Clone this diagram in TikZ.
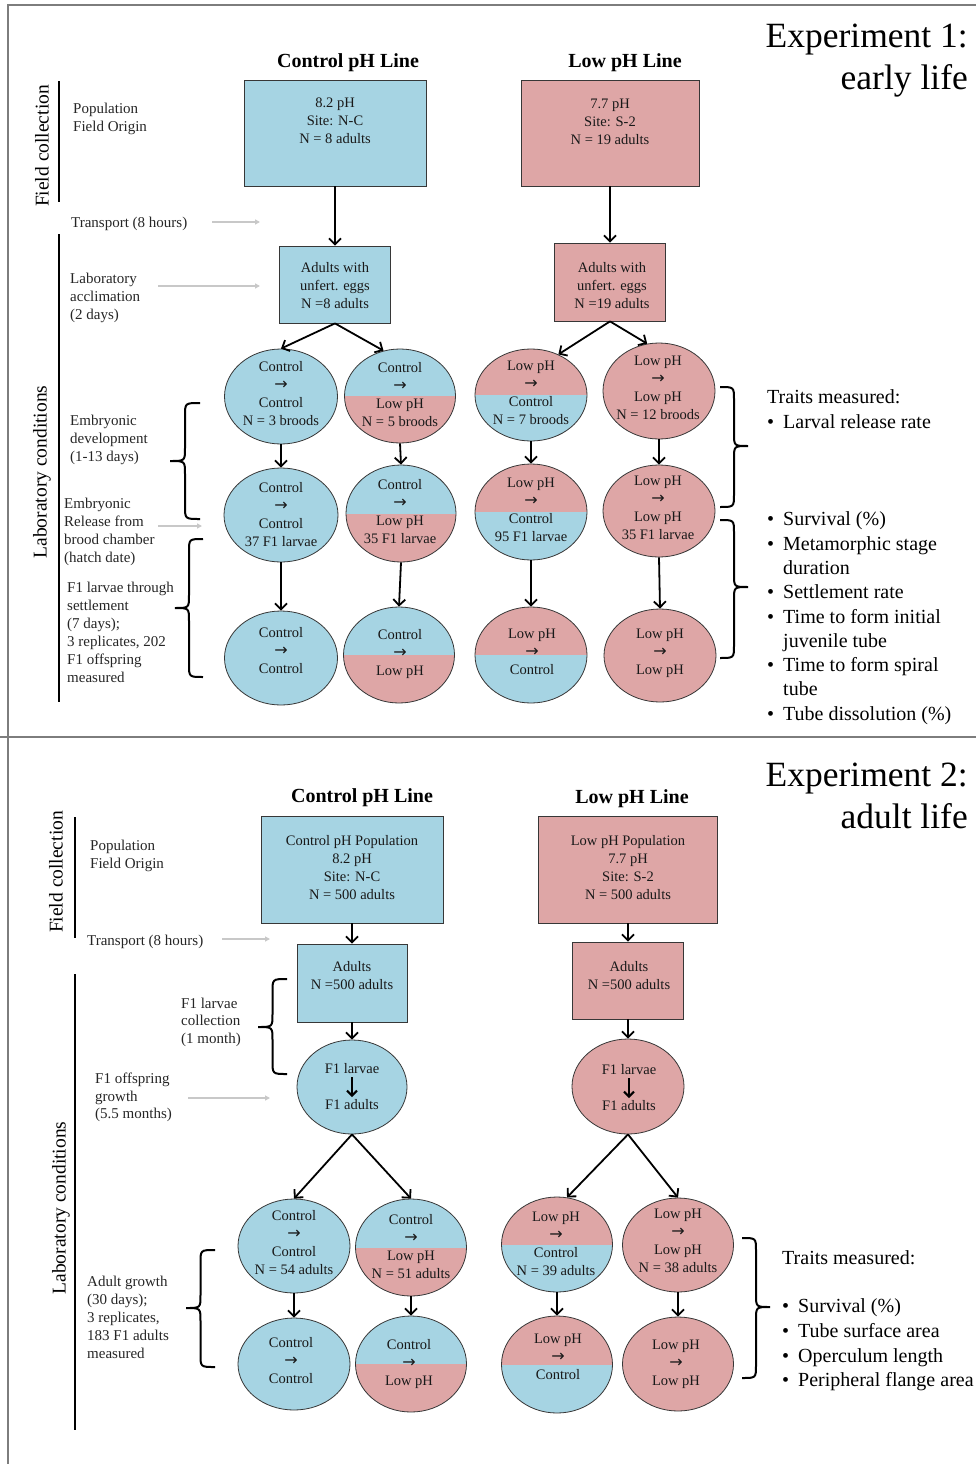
\documentclass[tikz,border=0pt]{standalone}
\usepackage{fontspec}
\setmainfont{Liberation Serif}
\newfontfamily\symf{DejaVu Sans}
\usetikzlibrary{shapes.geometric,arrows.meta}
\definecolor{cblue}{RGB}{166,212,227}
\definecolor{cpink}{RGB}{222,166,166}
\definecolor{outl}{RGB}{55,55,55}
\definecolor{framec}{RGB}{125,125,125}
\definecolor{lgray}{RGB}{200,200,200}
\newcommand\ar{{\fontsize{16}{18}\symf →}}
\newcommand\drawbrace[5]{%
 \draw[brc] (#1,#3) .. controls ({(#1+#2)/2},#3) .. ({(#1+#2)/2},#3+13) -- ({(#1+#2)/2},#5-13) .. controls ({(#1+#2)/2},#5) .. (#2,#5) .. controls ({(#1+#2)/2},#5) .. ({(#1+#2)/2},#5+13) -- ({(#1+#2)/2},#4-13) .. controls ({(#1+#2)/2},#4) .. (#1,#4);}
\begin{document}
\begin{tikzpicture}[x=1pt,y=-1pt,
 box/.style={draw=outl, line width=0.8pt, inner sep=0pt},
 bbox/.style={box, fill=cblue},
 pbox/.style={box, fill=cpink},
 ell/.style={ellipse, draw=outl, line width=0.8pt, inner sep=0pt},
 eb/.style={ell, fill=cblue},
 ep/.style={ell, fill=cpink},
 ebp/.style={ell, fill=cblue, path picture={\fill[cpink] (path picture bounding box.west) rectangle (path picture bounding box.south east);}},
 epb/.style={ell, fill=cpink, path picture={\fill[cblue] (path picture bounding box.west) rectangle (path picture bounding box.south east);}},
 ntext/.style={anchor=north, yshift=5.2pt, align=center, inner sep=0pt, text=black!90, font=\fontsize{14.5}{18}\selectfont},
 ltext/.style={anchor=north west, yshift=5.2pt, align=left, inner sep=0pt, text=black!85, font=\fontsize{15}{18}\selectfont},
 ttext/.style={anchor=north west, yshift=7.2pt, align=left, inner sep=0pt, font=\fontsize{20}{24.3}\selectfont},
 head/.style={inner sep=0pt, font=\bfseries\fontsize{20}{24}\selectfont},
 rot/.style={rotate=90, inner sep=0pt, font=\fontsize{19.5}{22}\selectfont},
 conn/.style={draw=black, line width=1.8pt, -{Straight Barb[length=6pt,width=12pt]}},
 gar/.style={draw=lgray, line width=1.3pt, -{Triangle[length=5pt,width=5pt]}},
 bar/.style={draw=black, line width=2.5pt},
 brc/.style={draw=black, line width=2pt},
 frm/.style={draw=framec, line width=1.5pt}]
\fill[white] (0,0) rectangle (976,1464);
\useasboundingbox (0,0) rectangle (976,1464);
% frame
\draw[frm] (8,1464) -- (8,5) -- (976,5);
\draw[frm] (0,737) -- (976,737);

%%%%%%%%%%%%%%%% Experiment 1
\node[anchor=north east, align=right, inner sep=0pt, font=\fontsize{35.5}{42}\selectfont] (t1) at (968,24) {Experiment 1:\\early life};
\node[head] (h1a) at (348,63) {Control pH Line};
\node[head] (h1b) at (625,63) {Low pH Line};

\node[rot] (fc1) at (42,146) {Field collection};
\node[rot] (lc1) at (42,472) {Laboratory conditions};
\draw[bar] (59,81) -- (59,202);
\draw[bar] (59,234) -- (59,702);

\node[ltext] (pop1) at (73,108) {Population\\Field Origin};
\node[ltext] (tr1) at (71,222) {Transport (8 hours)};
\node[ltext] (acc1) at (70,278) {Laboratory\\acclimation\\(2 days)};
\node[ltext] (emb1) at (70,420) {Embryonic\\development\\(1-13 days)};
\node[ltext] (rel1) at (64,503) {Embryonic\\Release from\\brood chamber\\(hatch date)};
\node[ltext] (set1) at (67,587) {F1 larvae through\\settlement\\(7 days);\\3 replicates, 202\\F1 offspring\\measured};

\coordinate (g1s) at (212,222); \coordinate (g1e) at (260,222);
\coordinate (g2s) at (158,286); \coordinate (g2e) at (260,286);
\coordinate (g3s) at (158,526); \coordinate (g3e) at (202,526);
\draw[gar] (g1s) -- (g1e);
\draw[gar] (g2s) -- (g2e);
\draw[gar] (g3s) -- (g3e);

\drawbrace{200}{170}{403}{519}{461}
\drawbrace{203}{175}{539}{677}{608}
\drawbrace{720}{748}{387}{507}{446}
\drawbrace{720}{748}{520}{658}{587}

\node[ttext] (tm1) at (767,397) {Traits measured:\\\makebox[16pt][l]{•}Larval release rate};
\node[ttext] (tl1) at (767,519) {\makebox[16pt][l]{•}Survival (\%)\\
\makebox[16pt][l]{•}Metamorphic stage\\\hspace*{16pt}duration\\
\makebox[16pt][l]{•}Settlement rate\\
\makebox[16pt][l]{•}Time to form initial\\\hspace*{16pt}juvenile tube\\
\makebox[16pt][l]{•}Time to form spiral\\\hspace*{16pt}tube\\
\makebox[16pt][l]{•}Tube dissolution (\%)};

% boxes
\node[bbox, minimum width=182pt, minimum height=106pt] (cb1) at (335,133) {};
\node[pbox, minimum width=178pt, minimum height=106pt] (pb1) at (610,133) {};
\node[bbox, minimum width=111pt, minimum height=77pt] (cb2) at (335,284.5) {};
\node[pbox, minimum width=111pt, minimum height=78pt] (pb2) at (610,282) {};
\node[ntext] (tcb1) at (335,103) {8.2 pH\\Site: N-C\\N = 8 adults};
\node[ntext] (tpb1) at (610,104) {7.7 pH\\Site: S-2\\N = 19 adults};
\node[ntext] (tcb2) at (335,267) {Adults with\\unfert. eggs\\N =8 adults};
\node[ntext] (tpb2) at (612,267) {Adults with\\unfert. eggs\\N =19 adults};

% ellipses
\node[eb, minimum width=113pt, minimum height=95pt] (A1) at (281,396.5) {};
\node[ebp, minimum width=111pt, minimum height=94pt] (B1) at (400,396) {};
\node[epb, minimum width=112pt, minimum height=92pt] (C1) at (531,395) {};
\node[ep, minimum width=112pt, minimum height=96pt] (D1) at (659,391) {};
\node[eb, minimum width=114pt, minimum height=94pt] (A2) at (281,515) {};
\node[ebp, minimum width=110pt, minimum height=97pt] (B2) at (401,513.5) {};
\node[epb, minimum width=112pt, minimum height=96pt] (C2) at (531,512) {};
\node[ep, minimum width=112pt, minimum height=92pt] (D2) at (659,511) {};
\node[eb, minimum width=113pt, minimum height=94pt] (A3) at (281,658) {};
\node[ebp, minimum width=111pt, minimum height=96pt] (B3) at (399,655) {};
\node[epb, minimum width=112pt, minimum height=96pt] (C3) at (531,655) {};
\node[ep, minimum width=112pt, minimum height=93pt] (D3) at (660,655.5) {};

\node[ntext] (tA1) at (281,366) {Control\\\ar\\Control\\N = 3 broods};
\node[ntext] (tB1) at (400,367) {Control\\\ar\\Low pH\\N = 5 broods};
\node[ntext] (tC1) at (531,366) {Low pH\\\ar\\Control\\N = 7 broods};
\node[ntext] (tD1) at (658,361) {Low pH\\\ar\\Low pH\\N = 12 broods};
\node[ntext] (tA2) at (281,487) {Control\\\ar\\Control\\37 F1 larvae};
\node[ntext] (tB2) at (400,484) {Control\\\ar\\Low pH\\35 F1 larvae};
\node[ntext] (tC2) at (531,483) {Low pH\\\ar\\Control\\95 F1 larvae};
\node[ntext] (tD2) at (658,481) {Low pH\\\ar\\Low pH\\35 F1 larvae};
\node[ntext] (tA3) at (281,632) {Control\\\ar\\Control};
\node[ntext] (tB3) at (400,634) {Control\\\ar\\Low pH};
\node[ntext] (tC3) at (532,634) {Low pH\\\ar\\Control};
\node[ntext] (tD3) at (660,634) {Low pH\\\ar\\Low pH};

% connectors
\draw[conn] (cb1.south) -- (cb2.north);
\draw[conn] (pb1.south) -- (pb2.north);
\draw[conn] (cb2.south) -- (A1.north);
\draw[conn] (cb2.south) -- (B1.110);
\draw[conn] (pb2.south) -- (C1.56);
\draw[conn] (pb2.south) -- (D1.104);
\draw[conn] (A1.south) -- (A2.north);
\draw[conn] (B1.south) -- (B2.north);
\draw[conn] (C1.south) -- (C2.north);
\draw[conn] (D1.south) -- (D2.north);
\draw[conn] (A2.south) -- (A3.north);
\draw[conn] (B2.south) -- (B3.north);
\draw[conn] (C2.south) -- (C3.north);
\draw[conn] (D2.south) -- (D3.north);

%%%%%%%%%%%%%%%% Experiment 2
\node[anchor=north east, align=right, inner sep=0pt, font=\fontsize{35.5}{42}\selectfont] (t2) at (968,763) {Experiment 2:\\adult life};
\node[head] (h2a) at (362,797.5) {Control pH Line};
\node[head] (h2b) at (632,798.5) {Low pH Line};

\node[rot] (fc2) at (56,872) {Field collection};
\node[rot] (lc2) at (61,1208) {Laboratory conditions};
\draw[bar] (75,817) -- (75,938);
\draw[bar] (75,974) -- (75,1430);

\node[ltext] (pop2) at (90,845) {Population\\Field Origin};
\node[ltext] (tr2) at (87,940) {Transport (8 hours)};
\node[ltext, font=\fontsize{15}{17.5}\selectfont] (col2) at (181,1003) {F1 larvae\\collection\\(1 month)};
\node[ltext, font=\fontsize{15}{17.5}\selectfont] (gr2) at (95,1078) {F1 offspring\\growth\\(5.5 months)};
\node[ltext] (ag2) at (87,1281) {Adult growth\\(30 days);\\3 replicates,\\183 F1 adults\\measured};

\coordinate (g4s) at (222,939); \coordinate (g4e) at (270,939);
\coordinate (g5s) at (188,1098); \coordinate (g5e) at (270,1098);
\draw[gar] (g4s) -- (g4e);
\draw[gar] (g5s) -- (g5e);

\drawbrace{287}{258}{979}{1074}{1027}
\drawbrace{215}{186}{1250}{1367}{1308}
\drawbrace{742}{770}{1238}{1378}{1307}

\node[ttext] (tm2) at (782,1258) {Traits measured:};
\node[ttext, font=\fontsize{20}{24.6}\selectfont] (tl2) at (782,1306) {\makebox[16pt][l]{•}Survival (\%)\\
\makebox[16pt][l]{•}Tube surface area\\
\makebox[16pt][l]{•}Operculum length\\
\makebox[16pt][l]{•}Peripheral flange area};

% boxes
\node[bbox, minimum width=182pt, minimum height=107pt] (cc1) at (352,869.5) {};
\node[pbox, minimum width=179pt, minimum height=107pt] (pc1) at (628,869.5) {};
\node[bbox, minimum width=110pt, minimum height=78pt] (cc2) at (352,983) {};
\node[pbox, minimum width=111pt, minimum height=77pt] (pc2) at (628,980.5) {};
\node[ntext] (tcc1) at (352,840) {Control pH Population\\8.2 pH\\Site: N-C\\N = 500 adults};
\node[ntext] (tpc1) at (628,840) {Low pH Population\\7.7 pH\\Site: S-2\\N = 500 adults};
\node[ntext] (tcc2) at (352,966) {Adults\\N =500 adults};
\node[ntext] (tpc2) at (629,966) {Adults\\N =500 adults};

% F1 ellipses
\node[eb, minimum width=110pt, minimum height=94pt] (cF) at (352,1087) {};
\node[ep, minimum width=112pt, minimum height=95pt] (pF) at (628,1086.5) {};
\node[ntext, font=\fontsize{14.5}{36}\selectfont] (tcF) at (352,1068) {F1 larvae\\F1 adults};
\node[ntext, font=\fontsize{14.5}{36}\selectfont] (tpF) at (629,1069) {F1 larvae\\F1 adults};
\coordinate (sa1) at (352,1077); \coordinate (sa2) at (352,1097);
\coordinate (sb1) at (629,1078); \coordinate (sb2) at (629,1098);
\draw[draw=black, line width=2pt, -{Straight Barb[length=5pt,width=10pt]}] (sa1) -- (sa2);
\draw[draw=black, line width=2pt, -{Straight Barb[length=5pt,width=10pt]}] (sb1) -- (sb2);

% ellipses rows
\node[eb, minimum width=112pt, minimum height=94pt] (G1) at (294,1246) {};
\node[ebp, minimum width=111pt, minimum height=97pt] (H1) at (411,1247.5) {};
\node[eb, minimum width=112pt, minimum height=92pt] (G2) at (294,1364) {};
\node[ebp, minimum width=111pt, minimum height=96pt] (H2) at (411,1364) {};
\node[epb, minimum width=111pt, minimum height=95pt] (I1) at (557,1244.5) {};
\node[ep, minimum width=111pt, minimum height=94pt] (J1) at (678,1245) {};
\node[epb, minimum width=111pt, minimum height=97pt] (I2) at (557,1364.5) {};
\node[ep, minimum width=111pt, minimum height=94pt] (J2) at (678,1364) {};

\node[ntext] (tG1) at (294,1215) {Control\\\ar\\Control\\N = 54 adults};
\node[ntext] (tH1) at (411,1219) {Control\\\ar\\Low pH\\N = 51 adults};
\node[ntext] (tG2) at (291,1342) {Control\\\ar\\Control};
\node[ntext] (tH2) at (409,1344) {Control\\\ar\\Low pH};
\node[ntext] (tI1) at (556,1217) {Low pH\\\ar\\Control\\N = 39 adults};
\node[ntext] (tJ1) at (678,1214) {Low pH\\\ar\\Low pH\\N = 38 adults};
\node[ntext] (tI2) at (558,1339) {Low pH\\\ar\\Control};
\node[ntext] (tJ2) at (676,1345) {Low pH\\\ar\\Low pH};

\draw[conn] (cc1.south) -- (cc2.north);
\draw[conn] (pc1.south) -- (pc2.north);
\draw[conn] (cc2.south) -- (cF.north);
\draw[conn] (pc2.south) -- (pF.north);
\draw[conn] (cF.south) -- (G1.north);
\draw[conn] (cF.south) -- (H1.north);
\draw[conn] (pF.south) -- (I1.78);
\draw[conn] (pF.south) -- (J1.north);
\draw[conn] (G1.south) -- (G2.north);
\draw[conn] (H1.south) -- (H2.north);
\draw[conn] (I1.south) -- (I2.north);
\draw[conn] (J1.south) -- (J2.north);
\end{tikzpicture}
\end{document}
